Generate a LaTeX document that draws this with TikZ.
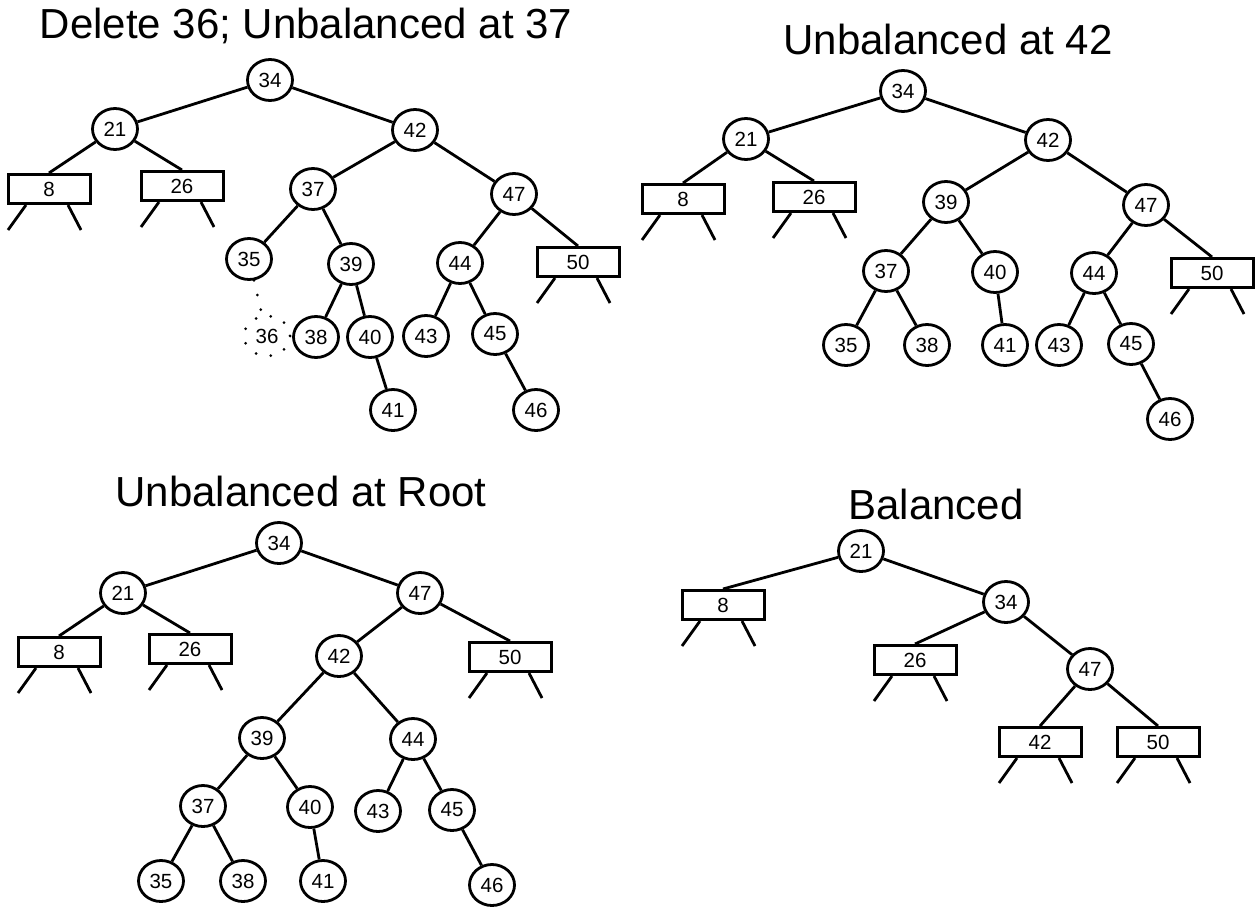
\documentclass[tikz,border=0pt]{standalone}
\usepackage{fontspec}
\setmainfont{Liberation Sans}
\usetikzlibrary{shapes.geometric}

\tikzset{
  key/.style={ellipse, draw, line width=2.8pt, minimum width=45pt, minimum height=41pt,
    inner sep=0pt, font=\fontsize{20.5}{20.5}\selectfont},
  leafbox/.style={rectangle, draw, line width=3pt, minimum width=82pt, minimum height=29pt,
    inner sep=0pt, font=\fontsize{20.5}{20.5}\selectfont},
  gone/.style={ellipse, minimum width=45pt, minimum height=41pt, inner sep=0pt,
    font=\fontsize{20.5}{20.5}\selectfont},
  edge/.style={line width=2.8pt},
  dotline/.style={line width=3pt, line cap=round, dash pattern=on 0pt off 15pt},
  heading/.style={anchor=base, font=\fontsize{42}{42}\selectfont}
}

% two stubs under a subtree box
\newcommand{\leafstubs}[1]{%
  \draw[edge] ([xshift=-23pt]#1.south) -- ++(-18,25);
  \draw[edge] ([xshift=19pt]#1.south) -- ++(13,25);
}

\begin{document}
\begin{tikzpicture}[x=1pt, y=-1pt]
\useasboundingbox (0,0) rectangle (1260,907);

% ---------- tree after deleting 36 ----------
\node[heading] (t1) at (306,39) {Delete 36; Unbalanced at 37};
\node[key] (a34) at (270,80) {34};
\node[key] (a21) at (115,129) {21};
\node[key] (a42) at (415,130) {42};
\node[leafbox] (a8) at (49,189) {8};
\node[leafbox] (a26) at (182,186) {26};
\node[key] (a37) at (313,189) {37};
\node[key] (a47) at (514,194) {47};
\node[key] (a35) at (249,259) {35};
\node[key] (a39) at (351,264) {39};
\node[key] (a44) at (460,263) {44};
\node[leafbox] (a50) at (578,262) {50};
\node[gone] (a36) at (267,336) {36};
\node[key] (a38) at (316,337) {38};
\node[key] (a40) at (370,337) {40};
\node[key] (a43) at (426,336) {43};
\node[key] (a45) at (495,334) {45};
\node[key] (a41) at (393,410) {41};
\node[key] (a46) at (536,410) {46};
\draw[edge] (a34) -- (a21);
\draw[edge] (a34) -- (a42);
\draw[edge] (a21) -- (a8.north);
\draw[edge] (a21) -- (a26.north);
\draw[edge] (a42) -- (a37);
\draw[edge] (a42) -- (a47);
\draw[edge] (a37) -- (a35);
\draw[edge] (a37) -- (a39);
\draw[edge] (a39) -- (a38);
\draw[edge] (a39) -- (a40);
\draw[edge] (a40) -- (a41);
\draw[edge] (a47) -- (a44);
\draw[edge] (a47) -- (a50.north);
\draw[edge] (a44) -- (a43);
\draw[edge] (a44) -- (a45);
\draw[edge] (a45) -- (a46);
\draw[dotline] (a35) -- (a36);
\draw[dotline] (a36.center) ellipse [x radius=23, y radius=20];
\leafstubs{a8}
\leafstubs{a26}
\leafstubs{a50}

% ---------- after the first rotation ----------
\node[heading] (t2) at (948,55) {Unbalanced at 42};
\node[key] (b34) at (903,91) {34};
\node[key] (b21) at (746,139) {21};
\node[key] (b42) at (1048,140) {42};
\node[leafbox] (b8) at (683,199) {8};
\node[leafbox] (b26) at (814,197) {26};
\node[key] (b39) at (946,202) {39};
\node[key] (b47) at (1146,205) {47};
\node[key] (b37) at (886,271) {37};
\node[key] (b40) at (995,272) {40};
\node[key] (b44) at (1094,273) {44};
\node[leafbox] (b50) at (1212,273) {50};
\node[key] (b35) at (846,345) {35};
\node[key] (b38) at (927,345) {38};
\node[key] (b41) at (1005,345) {41};
\node[key] (b43) at (1059,345) {43};
\node[key] (b45) at (1131,344) {45};
\node[key] (b46) at (1170,419) {46};
\draw[edge] (b34) -- (b21);
\draw[edge] (b34) -- (b42);
\draw[edge] (b21) -- (b8.north);
\draw[edge] (b21) -- (b26.north);
\draw[edge] (b42) -- (b39);
\draw[edge] (b42) -- (b47);
\draw[edge] (b39) -- (b37);
\draw[edge] (b39) -- (b40);
\draw[edge] (b37) -- (b35);
\draw[edge] (b37) -- (b38);
\draw[edge] (b40) -- (b41);
\draw[edge] (b47) -- (b44);
\draw[edge] (b47) -- (b50.north);
\draw[edge] (b44) -- (b43);
\draw[edge] (b44) -- (b45);
\draw[edge] (b45) -- (b46);
\leafstubs{b8}
\leafstubs{b26}
\leafstubs{b50}

% ---------- after the second rotation ----------
\node[heading] (t3) at (301,506) {Unbalanced at Root};
\node[key] (c34) at (279,543) {34};
\node[key] (c21) at (123,593) {21};
\node[key] (c47) at (420,593) {47};
\node[leafbox] (c8) at (59,652) {8};
\node[leafbox] (c26) at (190,649) {26};
\node[key] (c42) at (339,656) {42};
\node[leafbox] (c50) at (510,657) {50};
\node[key] (c39) at (262,738) {39};
\node[key] (c44) at (413,739) {44};
\node[key] (c37) at (203,806) {37};
\node[key] (c40) at (310,807) {40};
\node[key] (c43) at (378,811) {43};
\node[key] (c45) at (452,810) {45};
\node[key] (c35) at (161,881) {35};
\node[key] (c38) at (243,881) {38};
\node[key] (c41) at (323,881) {41};
\node[key] (c46) at (492,885) {46};
\draw[edge] (c34) -- (c21);
\draw[edge] (c34) -- (c47);
\draw[edge] (c21) -- (c8.north);
\draw[edge] (c21) -- (c26.north);
\draw[edge] (c47) -- (c42);
\draw[edge] (c47) -- (c50.north);
\draw[edge] (c42) -- (c39);
\draw[edge] (c42) -- (c44);
\draw[edge] (c39) -- (c37);
\draw[edge] (c39) -- (c40);
\draw[edge] (c37) -- (c35);
\draw[edge] (c37) -- (c38);
\draw[edge] (c40) -- (c41);
\draw[edge] (c44) -- (c43);
\draw[edge] (c44) -- (c45);
\draw[edge] (c45) -- (c46);
\leafstubs{c8}
\leafstubs{c26}
\leafstubs{c50}

% ---------- final tree ----------
\node[heading] (t4) at (936,519) {Balanced};
\node[key] (d21) at (861,551) {21};
\node[leafbox] (d8) at (723,605) {8};
\node[key] (d34) at (1006,602) {34};
\node[leafbox] (d26) at (915,660) {26};
\node[key] (d47) at (1090,669) {47};
\node[leafbox] (d42) at (1040,742) {42};
\node[leafbox] (d50) at (1158,742) {50};
\draw[edge] (d21) -- (d8.north);
\draw[edge] (d21) -- (d34);
\draw[edge] (d34) -- (d26.north);
\draw[edge] (d34) -- (d47);
\draw[edge] (d47) -- (d42.north);
\draw[edge] (d47) -- (d50.north);
\leafstubs{d8}
\leafstubs{d26}
\leafstubs{d42}
\leafstubs{d50}
\end{tikzpicture}
\end{document}
